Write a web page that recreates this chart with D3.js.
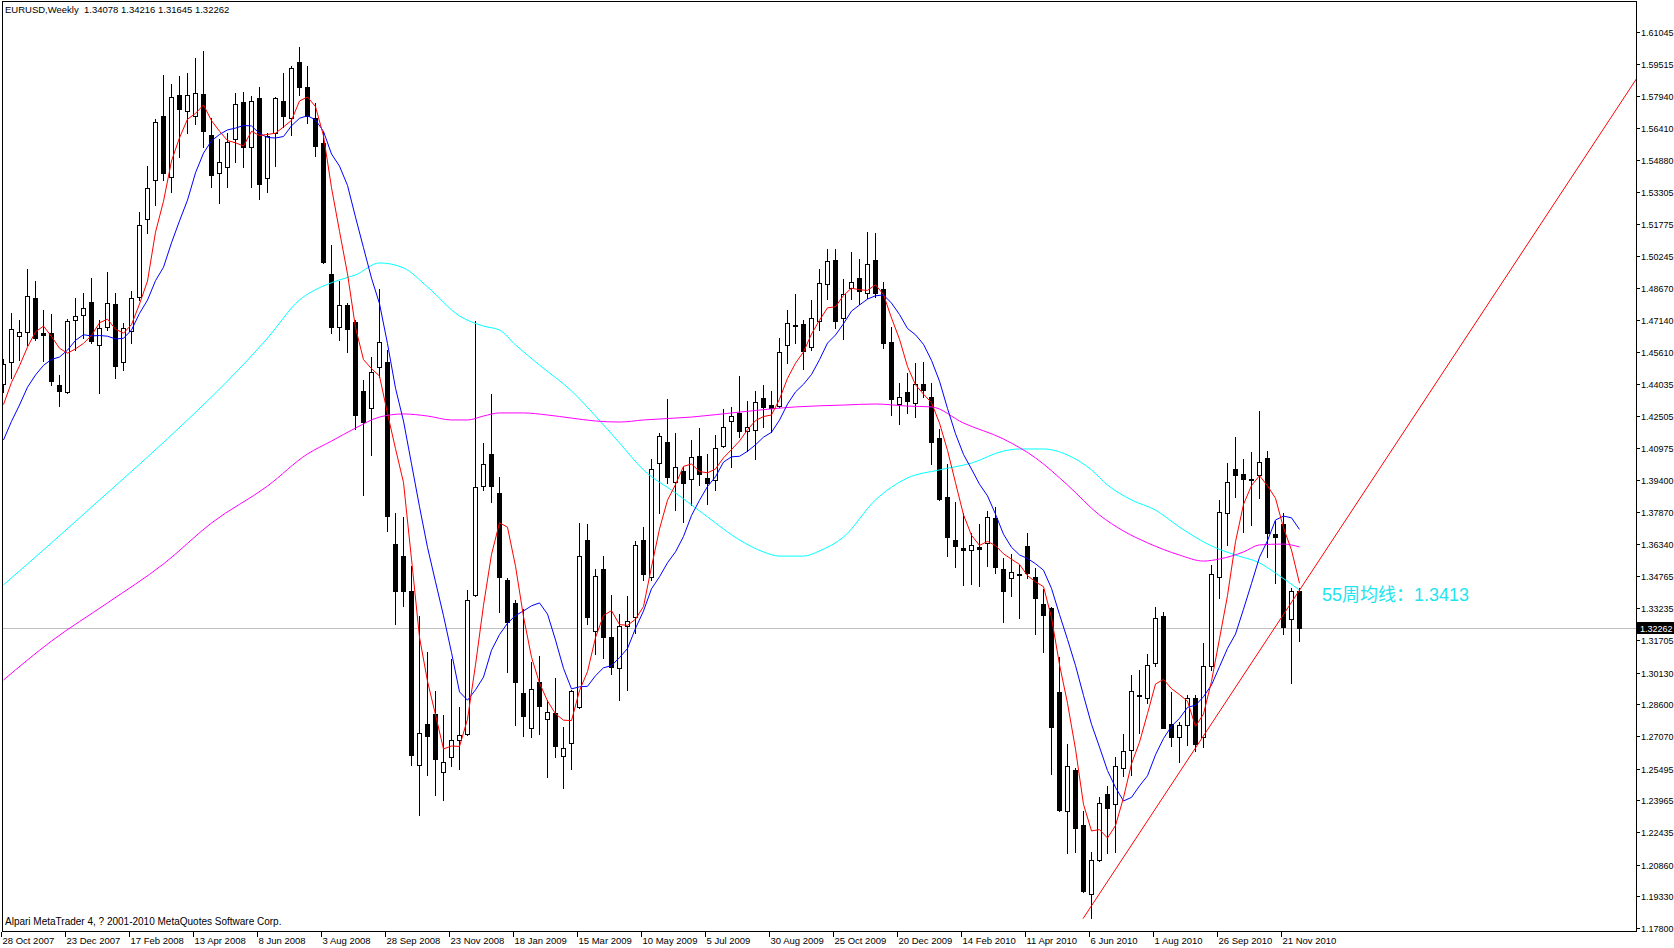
<!DOCTYPE html>
<html><head><meta charset="utf-8">
<script src="https://cdnjs.cloudflare.com/ajax/libs/d3/7.8.5/d3.min.js"></script>
<style>body{margin:0;background:#fff}svg{display:block}</style>
</head><body><svg id="c" width="1674" height="948"></svg>
<script>
// ---------- data ----------
const headerText = "EURUSD,Weekly  1.34078 1.34216 1.31645 1.32262";
const footerText = "Alpari MetaTrader 4, ? 2001-2010 MetaQuotes Software Corp.";
const maLabel = "55周均线：1.3413";
const lastPrice = 1.32262;
const lastPriceLabel = "1.32262";

const xTickLabels = ["28 Oct 2007","23 Dec 2007","17 Feb 2008","13 Apr 2008","8 Jun 2008","3 Aug 2008","28 Sep 2008","23 Nov 2008","18 Jan 2009","15 Mar 2009","10 May 2009","5 Jul 2009","30 Aug 2009","25 Oct 2009","20 Dec 2009","14 Feb 2010","11 Apr 2010","6 Jun 2010","1 Aug 2010","26 Sep 2010","21 Nov 2010"];
const xTickStep = 8;
const yTickLabels = ["1.61045","1.59515","1.57940","1.56410","1.54880","1.53305","1.51775","1.50245","1.48670","1.47140","1.45610","1.44035","1.42505","1.40975","1.39400","1.37870","1.36340","1.34765","1.33235","1.31705","1.30130","1.28600","1.27070","1.25495","1.23965","1.22435","1.20860","1.19330","1.17800"];

const opens = [1.4406,1.4511,1.4637,1.4656,1.4820,1.4652,1.4652,1.4401,1.4367,1.4714,1.4738,1.4801,1.4594,1.4680,1.4792,1.4511,1.4661,1.4825,1.5202,1.5390,
1.5699,1.5405,1.5800,1.5723,1.5699,1.5805,1.5607,1.5424,1.5453,1.5588,1.5767,1.5549,1.5786,1.5400,1.5617,1.5771,1.5690,1.5960,1.5839,1.5690,
1.5569,1.4937,1.4680,1.4787,1.4705,1.4372,1.4290,1.4487,1.4511,1.3633,1.3575,1.3406,1.2567,1.2765,1.2813,1.2533,1.2605,1.2687,1.2716,1.3387,
1.3913,1.4068,1.3880,1.3460,1.3349,1.2914,1.2745,1.2967,1.2789,1.2818,1.2610,1.2673,1.2846,1.3653,1.3213,1.3513,1.3184,1.3035,1.3238,1.3281,
1.3653,1.3474,1.4024,1.4126,1.3933,1.3986,1.3947,1.4058,1.3952,1.3942,1.4106,1.4227,1.4266,1.4179,1.4184,1.4338,1.4304,1.4299,1.4594,1.4690,
1.4695,1.4584,1.4709,1.4888,1.5004,1.4724,1.4869,1.4917,1.4845,1.5004,1.4864,1.4608,1.4309,1.4367,1.4314,1.4406,1.4343,1.4145,1.3860,1.3653,
1.3614,1.3604,1.3619,1.3638,1.3759,1.3513,1.3469,1.3489,1.3624,1.3474,1.3344,1.3325,1.2919,1.2345,1.2543,1.2278,1.1944,1.2108,1.2427,1.2378,
1.2552,1.2639,1.2900,1.2890,1.3059,1.3286,1.2765,1.2702,1.2760,1.2890,1.2702,1.3045,1.3474,1.3783,1.3995,1.3971,1.3947,1.3966,1.4049,1.3682,
1.3730,1.3271,1.34078];
const highs = [1.4527,1.4749,1.4714,1.4961,1.4903,1.4763,1.4744,1.4449,1.4719,1.4820,1.4845,1.4918,1.4714,1.4946,1.4845,1.4700,1.4854,1.5235,1.5458,1.5685,
1.5897,1.5853,1.5892,1.5907,1.5979,1.6013,1.5690,1.5588,1.5617,1.5810,1.5815,1.5796,1.5839,1.5617,1.5791,1.5907,1.5940,1.6032,1.5940,1.5762,
1.5622,1.5077,1.4903,1.4797,1.4714,1.4425,1.4536,1.4864,1.4570,1.3783,1.3764,1.3527,1.3286,1.3112,1.2924,1.2808,1.3078,1.2847,1.3411,1.4709,
1.4121,1.4357,1.3957,1.3469,1.3363,1.3320,1.3064,1.3093,1.2880,1.2987,1.2750,1.2929,1.3735,1.3730,1.3513,1.3575,1.3387,1.3295,1.3382,1.3648,
1.3715,1.4043,1.4169,1.4333,1.4169,1.4005,1.4135,1.4193,1.4068,1.4160,1.4285,1.4295,1.4444,1.4324,1.4372,1.4401,1.4372,1.4627,1.4763,1.4840,
1.4714,1.4811,1.4961,1.5057,1.5057,1.4913,1.5043,1.5009,1.5139,1.5134,1.4898,1.4680,1.4410,1.4459,1.4507,1.4512,1.4410,1.4188,1.4020,1.3836,
1.3783,1.3686,1.3730,1.3793,1.3812,1.3566,1.3585,1.3532,1.3686,1.3517,1.3416,1.3329,1.3088,1.2668,1.2552,1.2345,1.2147,1.2412,1.2465,1.2605,
1.2716,1.3001,1.3025,1.3102,1.3329,1.3305,1.2919,1.2774,1.2905,1.2905,1.3156,1.3532,1.3846,1.4024,1.4150,1.4044,1.4077,1.4275,1.4082,1.3744,
1.3783,1.3421,1.34216];
const lows = [1.4367,1.4434,1.4521,1.4594,1.4618,1.4516,1.4401,1.4299,1.4362,1.4570,1.4627,1.4603,1.4362,1.4666,1.4434,1.4473,1.4603,1.4811,1.5134,1.5270,
1.5390,1.5332,1.5501,1.5617,1.5661,1.5549,1.5356,1.5279,1.5356,1.5477,1.5453,1.5356,1.5299,1.5332,1.5458,1.5646,1.5607,1.5800,1.5665,1.5506,
1.4990,1.4652,1.4618,1.4560,1.4188,1.3870,1.4063,1.4439,1.3696,1.3247,1.3334,1.2567,1.2325,1.2519,1.2422,1.2398,1.2562,1.2547,1.2711,1.3382,
1.3894,1.3836,1.3305,1.3015,1.2760,1.2707,1.2702,1.2716,1.2509,1.2605,1.2456,1.2547,1.2842,1.3247,1.3102,1.3083,1.3006,1.2880,1.2929,1.3204,
1.3460,1.3460,1.3783,1.3928,1.3797,1.3740,1.3822,1.3918,1.3826,1.3894,1.4102,1.4005,1.4150,1.4082,1.4044,1.4198,1.4174,1.4295,1.4507,1.4603,
1.4478,1.4570,1.4666,1.4816,1.4676,1.4623,1.4816,1.4792,1.4821,1.4825,1.4579,1.4256,1.4212,1.4266,1.4246,1.4343,1.4020,1.3846,1.3575,1.3522,
1.3435,1.3440,1.3431,1.3527,1.3493,1.3257,1.3382,1.3276,1.3469,1.3199,1.3112,1.2523,1.2345,1.2143,1.2147,1.1954,1.1828,1.2103,1.2143,1.2147,
1.2514,1.2519,1.2721,1.2866,1.3045,1.2745,1.2658,1.2581,1.2663,1.2634,1.2654,1.3025,1.3373,1.3629,1.3860,1.3691,1.3725,1.3855,1.3571,1.3445,
1.3199,1.2963,1.31645];
const closes = [1.4502,1.4671,1.4656,1.4830,1.4627,1.4642,1.4420,1.4372,1.4709,1.4734,1.4773,1.4613,1.4676,1.4797,1.4492,1.4676,1.4820,1.5173,1.5352,1.5670,
1.5424,1.5791,1.5733,1.5800,1.5810,1.5627,1.5414,1.5477,1.5574,1.5757,1.5549,1.5771,1.5371,1.5603,1.5786,1.5699,1.5931,1.5839,1.5699,1.5554,
1.4994,1.4680,1.4787,1.4671,1.4256,1.4222,1.4463,1.4608,1.3768,1.3406,1.3406,1.2615,1.2721,1.2707,1.2596,1.2581,1.2687,1.2711,1.3363,1.3908,
1.4020,1.3913,1.3474,1.3257,1.2967,1.2803,1.2934,1.2851,1.2823,1.2658,1.2649,1.2924,1.3575,1.3281,1.3479,1.3184,1.3040,1.3238,1.3262,1.3629,
1.3489,1.3995,1.4155,1.3957,1.4005,1.3928,1.4053,1.3971,1.3928,1.4097,1.4198,1.4251,1.4179,1.4198,1.4319,1.4295,1.4290,1.4560,1.4700,1.4685,
1.4565,1.4724,1.4893,1.5000,1.4709,1.4840,1.4898,1.4855,1.4985,1.4845,1.4603,1.4333,1.4343,1.4324,1.4406,1.4377,1.4126,1.3851,1.3667,1.3624,
1.3604,1.3629,1.3609,1.3764,1.3522,1.3406,1.3498,1.3484,1.3493,1.3372,1.3291,1.2750,1.2350,1.2562,1.2263,1.1959,1.2108,1.2383,1.2359,1.2562,
1.2634,1.2924,1.2905,1.3049,1.3276,1.2745,1.2702,1.2760,1.2890,1.2668,1.3045,1.3489,1.3788,1.3933,1.3966,1.3947,1.3942,1.4029,1.3686,1.3667,
1.3233,1.3406,1.32262];
// closes of the weeks just before the window (needed to start the averages)
const priorCloses = [1.3769,1.3870,1.3971,1.4039,1.4174,1.4135,1.4256,1.4377,1.4261];

// 55-week average (cyan) and long average (magenta)
const cyanBars = [0,6,12,18,23,28,33,37,40,42,44,47,50,53,57,60,62,64,67,71,74,77,80,84,88,92,95,97,100,102,105,109,113,117,121,125,127,130,133,136,138,141,144,147,151,154,157,159,162];
const cyanVals = [1.3436,1.3639,1.3846,1.4053,1.4232,1.4420,1.4627,1.4811,1.4879,1.4908,1.4932,1.4990,1.4966,1.4874,1.4734,1.4685,1.4666,1.4594,1.4497,1.4372,1.4251,1.4121,1.3991,1.3880,1.3764,1.3653,1.3595,1.3575,1.3575,1.3600,1.3667,1.3846,1.3952,1.3991,1.4024,1.4082,1.4092,1.4092,1.4063,1.3991,1.3918,1.3846,1.3797,1.3715,1.3624,1.3580,1.3542,1.3493,1.3411];
const magBars = [0,6,13,20,26,33,38,41,44,47,50,53,56,58,60,62,65,68,71,74,77,80,86,92,99,105,109,113,116,120,125,129,133,137,140,143,147,150,152,155,157,160,162];
const magVals = [1.2977,1.3165,1.3349,1.3537,1.3735,1.3913,1.4068,1.4130,1.4193,1.4246,1.4261,1.4251,1.4232,1.4232,1.4251,1.4266,1.4266,1.4256,1.4241,1.4227,1.4222,1.4232,1.4246,1.4270,1.4295,1.4304,1.4309,1.4299,1.4295,1.4217,1.4140,1.4049,1.3918,1.3773,1.3696,1.3639,1.3580,1.3551,1.3561,1.3595,1.3629,1.3633,1.3619];
// support trend line (ray) through two anchors
const trendBars = [135,162];
const trendVals = [1.1825,1.3407];

// ---------- drawing ----------
const svg = d3.select("#c");
const x = d3.scaleLinear().domain([0,162]).range([3,1299]);
const y = d3.scaleLinear().domain([1.17800,1.61045]).range([928,32]);
const F = "'Liberation Sans', Arial, sans-serif";

svg.append("rect").attr("width",1674).attr("height",948).attr("fill","#fff");
svg.append("defs").append("clipPath").attr("id","clip")
  .append("rect").attr("x",3).attr("y",2).attr("width",1633).attr("height",929);

const g = svg.append("g").attr("clip-path","url(#clip)");

// current price line
const yl = Math.round(y(lastPrice))+0.5;
g.append("line").attr("x1",3).attr("x2",1636).attr("y1",yl).attr("y2",yl)
  .attr("stroke","#c0c0c0").attr("stroke-width",1);

// candles
closes.forEach((c,i)=>{
  const cx = Math.round(x(i));
  const yh = Math.round(y(highs[i])), ylo = Math.round(y(lows[i]));
  const yo = Math.round(y(opens[i])), yc = Math.round(y(c));
  g.append("line").attr("x1",cx+0.5).attr("x2",cx+0.5).attr("y1",yh).attr("y2",ylo+1)
    .attr("stroke","#000").attr("stroke-width",1);
  const top = Math.min(yo,yc), bot = Math.max(yo,yc);
  if (bot-top < 1) {
    g.append("line").attr("x1",cx-2).attr("x2",cx+3).attr("y1",top+0.5).attr("y2",top+0.5)
      .attr("stroke","#000").attr("stroke-width",1);
  } else {
    g.append("rect").attr("x",cx-1.5).attr("y",top+0.5).attr("width",4).attr("height",bot-top)
      .attr("fill", c>=opens[i] ? "#fff" : "#000").attr("stroke","#000").attr("stroke-width",1);
  }
});

// moving averages of close
const allC = priorCloses.concat(closes);
const off = priorCloses.length;
const sma = n => closes.map((c,i)=>d3.mean(allC.slice(i+off-n+1, i+off+1)));
const ma5 = sma(5), ma10 = sma(10);

const lineIdx = d3.line().x((d,i)=>x(i)+0.5).y(d=>y(d));
const linePts = d3.line().x(d=>x(d[0])+0.5).y(d=>y(d[1])).curve(d3.curveMonotoneX);

g.append("path").attr("d",linePts(cyanBars.map((b,k)=>[b,cyanVals[k]])))
  .attr("fill","none").attr("stroke","#00ffff").attr("stroke-width",1);
g.append("path").attr("d",linePts(magBars.map((b,k)=>[b,magVals[k]])))
  .attr("fill","none").attr("stroke","#ff00ff").attr("stroke-width",1);
g.append("path").attr("d",lineIdx(ma10)).attr("fill","none").attr("stroke","#0000ff").attr("stroke-width",1);
g.append("path").attr("d",lineIdx(ma5)).attr("fill","none").attr("stroke","#ff0000").attr("stroke-width",1);

// trend line ray
const slope = (trendVals[1]-trendVals[0])/(trendBars[1]-trendBars[0]);
const endBar = x.invert(1640);
g.append("line")
  .attr("x1",x(trendBars[0])).attr("y1",y(trendVals[0]))
  .attr("x2",x(endBar)).attr("y2",y(trendVals[0]+slope*(endBar-trendBars[0])))
  .attr("stroke","#ff0000").attr("stroke-width",1);

// frame
svg.append("rect").attr("x",2.5).attr("y",1.5).attr("width",1634).attr("height",930)
  .attr("fill","none").attr("stroke","#000").attr("stroke-width",1);

// y axis
yTickLabels.forEach(t=>{
  const yy = Math.round(y(+t))+0.5;
  svg.append("line").attr("x1",1637).attr("x2",1640).attr("y1",yy).attr("y2",yy).attr("stroke","#000");
  svg.append("text").attr("x",1641).attr("y",yy+3.5).attr("font-family",F).attr("font-size","9px")
    .attr("fill","#000").text(t);
});
// last price box
svg.append("rect").attr("x",1637).attr("y",yl-6.5).attr("width",37).attr("height",12).attr("fill","#000");
svg.append("text").attr("x",1640).attr("y",yl+3.5).attr("font-family",F).attr("font-size","9px")
  .attr("fill","#fff").text(lastPriceLabel);

// x axis
xTickLabels.forEach((t,k)=>{
  const xx = Math.round(x(k*xTickStep))+0.5;
  svg.append("line").attr("x1",xx-2).attr("x2",xx-2).attr("y1",932).attr("y2",937).attr("stroke","#000");
  svg.append("text").attr("x",xx-1).attr("y",944).attr("font-family",F).attr("font-size","9.5px")
    .attr("fill","#000").text(t);
});

// texts
svg.append("text").attr("x",5).attr("y",13).attr("font-family",F).attr("font-size","9.5px")
  .attr("fill","#000").attr("xml:space","preserve").style("white-space","pre").text(headerText);
svg.append("text").attr("x",5).attr("y",925).attr("font-family",F).attr("font-size","10px")
  .attr("fill","#000").text(footerText);
svg.append("text").attr("x",1322).attr("y",601)
  .attr("font-family","'Liberation Sans','Noto Sans CJK SC',sans-serif").attr("font-size","18px")
  .attr("fill","#22e4ee").text(maLabel);
</script>
</body></html>
